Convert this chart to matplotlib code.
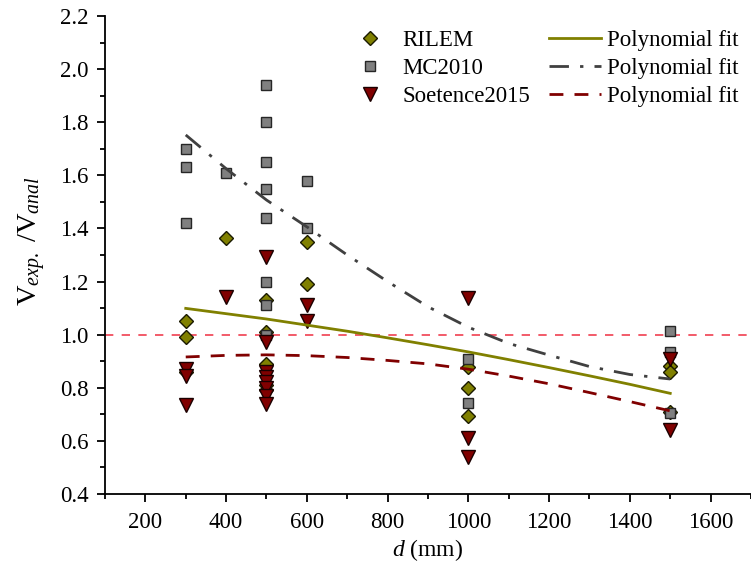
import numpy as np
import matplotlib
matplotlib.use("Agg")
import matplotlib.pyplot as plt
from matplotlib.ticker import MultipleLocator, FormatStrFormatter

plt.rcParams['font.family'] = ['Liberation Serif', 'DejaVu Serif']
plt.rcParams['mathtext.fontset'] = 'custom'
plt.rcParams['mathtext.rm'] = 'Liberation Serif'
plt.rcParams['mathtext.it'] = 'Liberation Serif:italic'

# ---- data ----
rilem_d = [300, 300, 300, 400, 500, 500, 500, 500, 500, 600, 600,
           1000, 1000, 1000, 1500, 1500, 1500]
rilem_v = [1.05, 0.99, 0.858, 1.365, 1.13, 1.01, 0.89, 0.81, 0.79, 1.35, 1.19,
           0.88, 0.80, 0.694, 0.882, 0.861, 0.71]

mc_d = [300, 300, 300, 400, 500, 500, 500, 500, 500, 500, 500, 500,
        600, 600, 1000, 1000, 1500, 1500, 1500]
mc_v = [1.70, 1.63, 1.42, 1.61, 1.94, 1.80, 1.65, 1.55, 1.44, 1.20, 1.11, 1.00,
        1.58, 1.40, 0.907, 0.741, 1.013, 0.934, 0.704]

soet_d = [300, 300, 300, 400, 500, 500, 500, 500, 500, 500, 500, 500,
          600, 600, 1000, 1000, 1000, 1500, 1500]
soet_v = [0.870, 0.845, 0.736, 1.143, 1.291, 0.973, 0.86, 0.84, 0.82, 0.80, 0.77, 0.74,
          1.113, 1.051, 1.139, 0.610, 0.540, 0.908, 0.641]

fit_d = [300, 400, 500, 600, 700, 800, 900, 1000, 1100, 1200, 1300, 1400, 1500]
fit_rilem = [1.099, 1.079, 1.059, 1.036, 1.013, 0.988, 0.962, 0.935, 0.906, 0.876, 0.845, 0.813, 0.779]
fit_mc = [1.752, 1.625, 1.507, 1.406, 1.300, 1.200, 1.105, 1.028, 0.967, 0.923, 0.880, 0.850, 0.833]
fit_soet = [0.916, 0.922, 0.924, 0.921, 0.914, 0.903, 0.890, 0.870, 0.844, 0.815, 0.782, 0.748, 0.713]

ref_value = 1.0
xticks = [200, 400, 600, 800, 1000, 1200, 1400, 1600]
xlim = (100, 1700)
ylim = (0.4, 2.2)

# ---- figure ----
fig = plt.figure(figsize=(7.51, 5.70), dpi=100)
ax = fig.add_axes([0.1398, 0.1333, 0.8602, 0.8387])

olive = '#808000'
gray = '#808080'
dred = '#800000'

ax.plot(rilem_d, rilem_v, linestyle='none', marker='D', ms=7.6, mfc=olive,
        mec='#1a1a00', mew=1.0, label='RILEM', zorder=3)
ax.plot(mc_d, mc_v, linestyle='none', marker='s', ms=7.6, mfc=gray,
        mec='#262626', mew=1.0, label='MC2010', zorder=3)
ax.plot(soet_d, soet_v, linestyle='none', marker='v', ms=10, mfc=dred,
        mec='#1a0000', mew=1.0, label='Soetence2015', zorder=3)

ax.plot(fit_d, fit_rilem, color=olive, lw=2.0, label='Polynomial fit', zorder=4)
ax.plot(fit_d, fit_mc, color='#404040', lw=2.0, dashes=(7, 4, 1.2, 4),
        label='Polynomial fit', zorder=4)
ax.plot(fit_d, fit_soet, color=dred, lw=2.0, dashes=(5, 4),
        label='Polynomial fit', zorder=4)

ax.axhline(ref_value, color='#f04050', lw=1.2, dashes=(5, 5), zorder=2)

ax.set_xlim(*xlim)
ax.set_ylim(*ylim)
ax.set_xticks(xticks)
ax.xaxis.set_minor_locator(MultipleLocator(100))
ax.yaxis.set_major_locator(MultipleLocator(0.2))
ax.yaxis.set_minor_locator(MultipleLocator(0.1))
ax.yaxis.set_major_formatter(FormatStrFormatter('%.1f'))

for s in ['top', 'right']:
    ax.spines[s].set_visible(False)
for s in ['left', 'bottom']:
    ax.spines[s].set_linewidth(1.3)
ax.tick_params(which='major', direction='out', length=6, width=1.3, labelsize=16.5)
ax.tick_params(axis='x', which='major', pad=7)
ax.tick_params(axis='y', which='major', pad=6)
ax.tick_params(which='minor', direction='out', length=3.5, width=1.3)

ax.set_xlabel(r'$\mathit{d}$ (mm)', fontsize=17, labelpad=3)
ax.set_ylabel(r'V$_{\mathit{exp.}}$ /V$_{\mathit{anal}}$', fontsize=20.5)
ax.yaxis.set_label_coords(-0.088, 0.53)

ax.legend(ncol=2, loc='upper right', bbox_to_anchor=(1.006, 1.005), frameon=False,
          fontsize=16.5, handlelength=2.3, handletextpad=0.26, columnspacing=0.8,
          labelspacing=0.32, borderaxespad=0.3)

fig.savefig('out.png', dpi=100)
